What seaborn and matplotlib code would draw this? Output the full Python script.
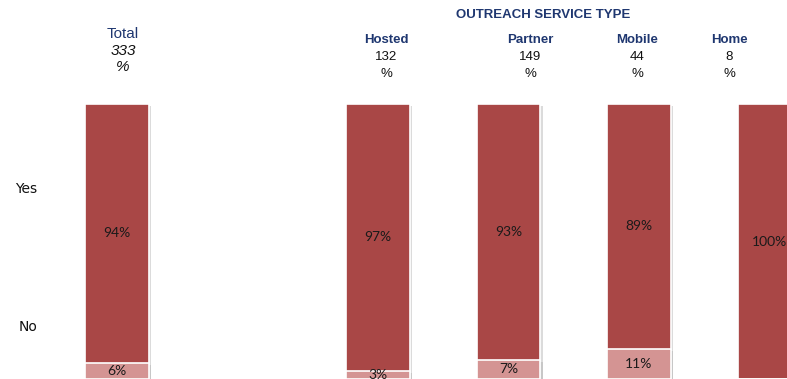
import matplotlib
matplotlib.use("Agg")
import matplotlib.pyplot as plt
import matplotlib.patheffects as pe
import seaborn as sns
import pandas as pd

# Share of respondents answering Yes / No, overall and by outreach service type
categories = ["Total", "Hosted", "Partner", "Mobile", "Home"]
bases = [333, 132, 149, 44, 8]
yes_pct = [94, 97, 93, 89, 100]
no_pct = [6, 3, 7, 11, 0]

header_x = [123, 386, 530, 637, 729]   # pixel centres of the column headers
slot_order = ["Total", "", "Hosted", "Partner", "Mobile", "Home"]

DARK = "#A94746"
LIGHT = "#D49493"
NAVY = "#1F3770"

sns.set_theme(style="white")
plt.rcParams["font.family"] = ["Liberation Sans", "DejaVu Sans"]

W, H = 787, 379
fig = plt.figure(figsize=(W / 100, H / 100), dpi=100)
ax = fig.add_axes([0, 0, 1, 1])

df = pd.DataFrame({
    "category": categories,
    "yes": yes_pct,
    "no": no_pct,
})
df["stack"] = df["no"] + df["yes"]

sns.barplot(data=df, x="category", y="stack", order=slot_order, color=DARK,
            saturation=1, width=0.49, edgecolor="white", linewidth=1.2, ax=ax)
sns.barplot(data=df, x="category", y="no", order=slot_order, color=LIGHT,
            saturation=1, width=0.49, edgecolor="white", linewidth=1.2, ax=ax)

for p in ax.patches:
    p.set_path_effects([
        pe.SimplePatchShadow(offset=(1.5, -1.5), shadow_rgbFace="#b0b0b0", alpha=0.45),
        pe.Normal(),
    ])

# pixel-aligned limits: slot spacing 130.5 px, first slot centred at x=117,
# 100 % reaches y=104 px from the top
slot = 130.5
ax.set_xlim(-117 / slot, (W - 117) / slot)
ax.set_ylim(0, H / 275 * 100)
ax.set_axis_off()

xpos = {c: i for i, c in enumerate(slot_order)}
for c, y, n in zip(categories, yes_pct, no_pct):
    x = xpos[c]
    ax.text(x, n + y / 2, f"{y}%", ha="center", va="center", fontsize=10,
            family=["Lato", "DejaVu Sans"], color="#1a1a1a")
    if n > 0:
        ax.text(x, n / 2, f"{n}%", ha="center", va="center", fontsize=10,
                family=["Lato", "DejaVu Sans"], color="#1a1a1a")


def fx(px):
    return px / W


def fy(py):
    return 1 - py / H


# series labels on the left
fig.text(fx(37), fy(189), "Yes", ha="right", va="center", fontsize=10,
         family=["DejaVu Sans"], color="#111111")
fig.text(fx(37), fy(327), "No", ha="right", va="center", fontsize=10,
         family=["DejaVu Sans"], color="#111111")

# column headers
fig.text(fx(header_x[0]), fy(34), categories[0], ha="center", va="center",
         fontsize=11, color=NAVY)
fig.text(fx(header_x[0]), fy(51), str(bases[0]), ha="center", va="center",
         fontsize=11, style="italic", color="#111111")
fig.text(fx(header_x[0]), fy(67), "%", ha="center", va="center",
         fontsize=11, style="italic", color="#111111")

fig.text(fx(543), fy(15), "OUTREACH SERVICE TYPE", ha="center", va="center",
         fontsize=9.5, fontweight="bold", color=NAVY)
for hx, c, b in zip(header_x[1:], categories[1:], bases[1:]):
    fig.text(fx(hx), fy(40), c, ha="center", va="center", fontsize=9.5,
             fontweight="bold", color=NAVY)
    fig.text(fx(hx), fy(57), str(b), ha="center", va="center", fontsize=9.5,
             color="#111111")
    fig.text(fx(hx), fy(74), "%", ha="center", va="center", fontsize=9.5,
             color="#111111")

fig.savefig("out.png", dpi=100, facecolor="white")
